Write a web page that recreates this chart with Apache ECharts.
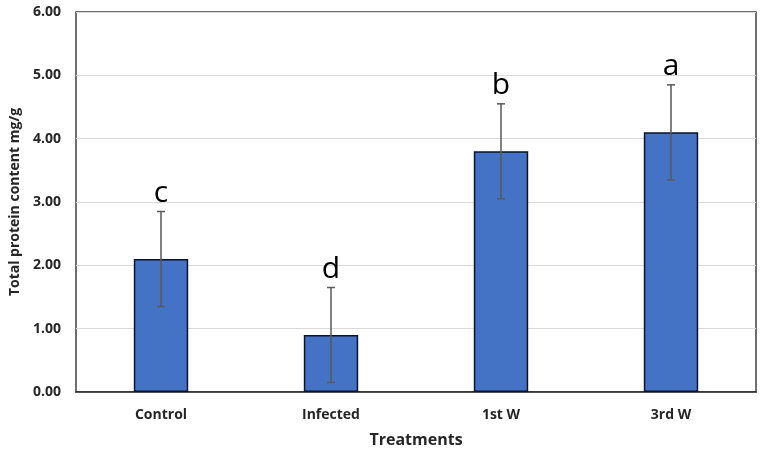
<!DOCTYPE html>
<html><head><meta charset="utf-8">
<script src="https://cdn.jsdelivr.net/npm/echarts@6/dist/echarts.min.js"></script>
<style>html,body{margin:0;padding:0;background:#fff}#c{width:763px;height:455px}</style>
</head><body><div id="c"></div>
<script>
const categories = ['Control', 'Infected', '1st W', '3rd W'];
const means = [2.10, 0.90, 3.80, 4.10];
const errors = [0.75, 0.75, 0.75, 0.75];
const letters = ['c', 'd', 'b', 'a'];
const yTicks = [0, 1, 2, 3, 4, 5, 6];

const errData = categories.map((c, i) => [i, means[i] - errors[i], means[i] + errors[i], letters[i]]);
const font = '"Open Sans", Lato, sans-serif';

const chart = echarts.init(document.getElementById('c'), null, {renderer: 'canvas'});
chart.setOption({
  animation: false,
  grid: {left: 76, right: 7, top: 12, bottom: 63, show: true, borderColor: '#404040', borderWidth: 1.5, backgroundColor: 'transparent'},
  xAxis: {
    type: 'category', data: categories,
    axisLine: {show: true, lineStyle: {color: '#262626', width: 1.5}},
    axisTick: {show: false},
    axisLabel: {color: '#262626', fontFamily: font, fontWeight: 'bold', fontSize: 14, margin: 16},
    name: 'Treatments', nameLocation: 'middle', nameGap: 40,
    nameTextStyle: {color: '#262626', fontFamily: font, fontWeight: 'bold', fontSize: 16}
  },
  yAxis: {
    type: 'value', min: yTicks[0], max: yTicks[yTicks.length - 1], interval: 1,
    axisLine: {show: false}, axisTick: {show: false},
    splitLine: {lineStyle: {color: '#d9d9d9', width: 1.2}},
    axisLabel: {color: '#262626', fontFamily: font, fontWeight: 'bold', fontSize: 14, margin: 15,
      formatter: v => v.toFixed(2)},
    name: 'Total protein content mg/g', nameLocation: 'middle', nameGap: 54,
    nameTextStyle: {color: '#262626', fontFamily: font, fontWeight: 'bold', fontSize: 14}
  },
  series: [
    {
      type: 'bar', data: means, barWidth: '32%',
      itemStyle: {color: '#4472C4', borderColor: '#0a1428', borderWidth: 1.5}
    },
    {
      type: 'custom', data: errData, z: 10,
      renderItem: function (params, api) {
        const x = api.value(0);
        const lo = api.coord([x, api.value(1)]);
        const hi = api.coord([x, api.value(2)]);
        const cap = 4;
        const st = {stroke: '#595959', lineWidth: 1.5};
        return {
          type: 'group',
          children: [
            {type: 'line', shape: {x1: hi[0], y1: hi[1], x2: lo[0], y2: lo[1]}, style: st},
            {type: 'line', shape: {x1: hi[0] - cap, y1: hi[1], x2: hi[0] + cap, y2: hi[1]}, style: st},
            {type: 'line', shape: {x1: lo[0] - cap, y1: lo[1], x2: lo[0] + cap, y2: lo[1]}, style: st},
            {type: 'text', x: hi[0], y: hi[1] - 3,
              style: {text: api.value(3), fill: '#000', font: '30px ' + font, textAlign: 'center', textVerticalAlign: 'bottom'}}
          ]
        };
      }
    }
  ]
});
</script></body></html>
